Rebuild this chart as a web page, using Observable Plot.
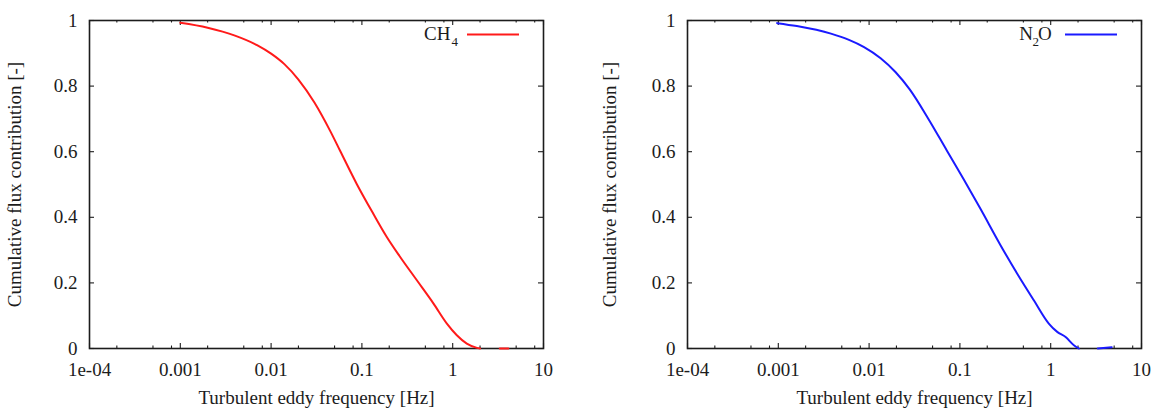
<!DOCTYPE html>
<html>
<head>
<meta charset="utf-8">
<script src="https://cdn.jsdelivr.net/npm/d3@7"></script>
<script src="https://cdn.jsdelivr.net/npm/@observablehq/plot@0.6"></script>
<style>
  html, body { margin: 0; padding: 0; background: #fff; overflow: hidden; }
  #row { display: flex; width: 1154px; height: 414px; }
  #row svg { display: block; flex: none; }
</style>
</head>
<body>
<div id="row"></div>
<script>
// Axis ticks and titles
const xTickValues = [1e-4, 1e-3, 1e-2, 1e-1, 1, 10];
const xTickLabels = ["1e-04", "0.001", "0.01", "0.1", "1", "10"];
const xMinorSteps = [2, 5, 8];
const yTickValues = [0, 0.2, 0.4, 0.6, 0.8, 1];
const yTickLabels = ["0", "0.2", "0.4", "0.6", "0.8", "1"];
const xTitle = "Turbulent eddy frequency [Hz]";
const yTitle = "Cumulative flux contribution [-]";

// CH4 ogive: frequency [Hz] and cumulative flux contribution
const ch4Freq = [0.001, 0.002, 0.004, 0.007, 0.01, 0.014, 0.02, 0.03, 0.045, 0.0577, 0.088, 0.134, 0.188, 0.264, 0.403, 0.615, 0.863, 1.11, 1.43, 1.85, 2.0];
const ch4Flux = [0.993, 0.978, 0.954, 0.925, 0.899, 0.867, 0.82, 0.75, 0.662, 0.602, 0.501, 0.41, 0.340, 0.279, 0.208, 0.137, 0.076, 0.0405, 0.015, 0.002, 0];
const ch4TailFreq = [3.3, 4.1];
const ch4TailFlux = [0, 0];

// N2O ogive
const n2oFreq = [0.00097, 0.0016, 0.0038, 0.006, 0.0088, 0.0134, 0.0195, 0.028, 0.045, 0.072, 0.11, 0.169, 0.28, 0.428, 0.652, 0.953, 1.18, 1.46, 1.8, 2.04];
const n2oFlux = [0.992, 0.983, 0.960, 0.941, 0.919, 0.885, 0.843, 0.79, 0.70, 0.603, 0.516, 0.425, 0.315, 0.228, 0.147, 0.076, 0.0506, 0.035, 0.010, 0];
const n2oTailFreq = [3.3, 4.7];
const n2oTailFlux = [0, 0.004];

// Legend labels, split so the subscripts can be set smaller and lower
const ch4LegendParts = ["CH", "4"];
const n2oLegendParts = ["N", "2", "O"];

const W = 577, H = 414, MT = 20, MB = 66;
const FONT = "'Liberation Serif', 'Times New Roman', Times, serif";
const INK = "#1c1c1c";

function panel(cfg) {
  const frameW = W - cfg.marginLeft - cfg.marginRight;
  const frameH = H - MT - MB;
  const main = cfg.freq.map((f, i) => ({f, v: cfg.flux[i], part: "main"}));
  const tail = cfg.tailFreq.map((f, i) => ({f, v: cfg.tailFlux[i], part: "tail"}));
  const minor = xTickValues.slice(0, -1).flatMap(d => xMinorSteps.map(k => d * k));
  const tickStyle = {stroke: INK, strokeWidth: 1.1};

  const legendMarks = cfg.legend.map(p => Plot.text([cfg.legendParts[p.i]], {
    text: d => d,
    frameAnchor: "top-right",
    lineAnchor: "bottom",
    textAnchor: p.anchor,
    dx: p.dx,
    dy: p.sub ? 25 : 19,
    fontSize: p.sub ? 13 : 19,
    fill: INK
  }));

  return Plot.plot({
    width: W,
    height: H,
    marginTop: MT,
    marginBottom: MB,
    marginLeft: cfg.marginLeft,
    marginRight: cfg.marginRight,
    style: {fontFamily: FONT, fontSize: "19px", color: INK, background: "#fff"},
    x: {type: "log", domain: [1e-4, 10], label: null},
    y: {domain: [0, 1], label: null},
    marks: [
      Plot.frame({stroke: INK, strokeWidth: 1.6}),

      // inward ticks on all four sides
      Plot.tickX(xTickValues, {x: d => d, insetTop: frameH - 5, ...tickStyle}),
      Plot.tickX(xTickValues, {x: d => d, insetBottom: frameH - 5, ...tickStyle}),
      Plot.tickX(minor, {x: d => d, insetTop: frameH - 2.5, ...tickStyle}),
      Plot.tickX(minor, {x: d => d, insetBottom: frameH - 2.5, ...tickStyle}),
      Plot.tickY(yTickValues, {y: d => d, insetRight: frameW - 5, ...tickStyle}),
      Plot.tickY(yTickValues, {y: d => d, insetLeft: frameW - 5, ...tickStyle}),

      // tick labels
      Plot.axisX(xTickValues, {tickSize: 0, tickPadding: 14, tickFormat: d => xTickLabels[xTickValues.indexOf(d)], label: null, fontSize: 19}),
      Plot.axisY(yTickValues, {tickSize: 0, tickPadding: 12, tickFormat: d => yTickLabels[yTickValues.indexOf(d)], label: null, fontSize: 19}),

      // axis titles
      Plot.text([xTitle], {text: d => d, frameAnchor: "bottom", lineAnchor: "bottom", dy: 55, fontSize: 19, fill: INK}),
      Plot.text([yTitle], {text: d => d, frameAnchor: "left", textAnchor: "middle", rotate: -90, dx: cfg.yTitleDx, fontSize: 19, fill: INK}),

      // ogive, drawn over the frame so the zero tail stays visible
      Plot.line([...main, ...tail], {x: "f", y: "v", z: "part", stroke: cfg.color, strokeWidth: 2, curve: "monotone-x"}),

      // legend key
      Plot.ruleY([1], {y: d => d, dy: 14, insetLeft: frameW - 76, insetRight: 24, stroke: cfg.color, strokeWidth: 2}),
      ...legendMarks
    ]
  });
}

const ch4Panel = panel({
  freq: ch4Freq, flux: ch4Flux, tailFreq: ch4TailFreq, tailFlux: ch4TailFlux,
  color: "#ff1a1a",
  marginLeft: 89, marginRight: 34, yTitleDx: -75,
  legendParts: ch4LegendParts,
  legend: [
    {i: 0, anchor: "end", dx: -93},
    {i: 1, anchor: "start", dx: -92, sub: true}
  ]
});

const n2oPanel = panel({
  freq: n2oFreq, flux: n2oFlux, tailFreq: n2oTailFreq, tailFlux: n2oTailFlux,
  color: "#1a1aff",
  marginLeft: 110, marginRight: 13, yTitleDx: -78,
  legendParts: n2oLegendParts,
  legend: [
    {i: 0, anchor: "end", dx: -108.5},
    {i: 1, anchor: "start", dx: -109, sub: true},
    {i: 2, anchor: "start", dx: -103.5}
  ]
});

document.getElementById("row").append(ch4Panel, n2oPanel);
</script>
</body>
</html>
